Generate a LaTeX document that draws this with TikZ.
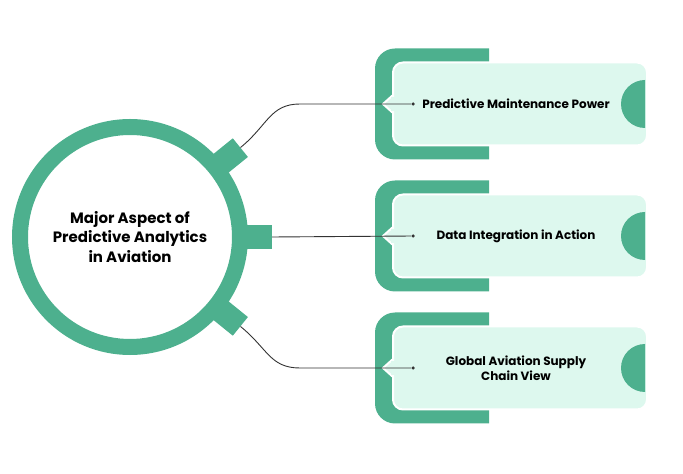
\documentclass[tikz,border=0pt]{standalone}
\usepackage{fontspec}
\setmainfont{Poppins}
\usetikzlibrary{arrows.meta, positioning, calc}
\definecolor{pagreen}{HTML}{4DB08E}
\definecolor{palight}{HTML}{DDF8EE}
\definecolor{paline}{HTML}{333333}

\begin{document}
\begin{tikzpicture}[x=1pt, y=1pt,
    hub/.style={circle, draw=pagreen, line width=16pt, minimum size=220pt, inner sep=0pt,
                fill=white, align=center, font=\fontsize{15}{19.5}\selectfont\bfseries},
    tab/.style={fill=pagreen, minimum width=30pt, minimum height=24pt, inner sep=0pt},
    card/.style={fill=palight, draw=white, line width=2pt, rounded corners=10pt,
                 minimum width=254pt, minimum height=83pt},
    linkdot/.style={circle, fill=paline, inner sep=0pt, minimum size=3.5pt},
    cardtext/.style={align=center, font=\fontsize{12}{15}\selectfont\bfseries},
    link/.style={draw=paline, line width=0.9pt}]
  \useasboundingbox (0,0) rectangle (683,474);
  % ring and its three tabs
  \foreach \a/\n in {39/1, 0/2, -39/3}
    \node[tab, rotate=\a] (tab\n) at ($(130,237)+(\a:127)$) {};
  \node[hub] (hub) at (130,237) {Major Aspect of\\Predictive Analytics\\in Aviation};
  % the three cards
  \foreach \y/\n/\t in {370/1/{Predictive Maintenance Power}, 238/2/{Data Integration in Action},
                        106/3/{Global Aviation Supply\\Chain View}} {
    \begin{scope}
      \clip (370,\y-60) rectangle (489,\y+60);
      \fill[pagreen, rounded corners=20pt] (375,\y-55.5) rectangle (530,\y+55.5);
    \end{scope}
    \node[card] (card\n) at (520,\y) {};
    \filldraw[fill=palight, draw=white, line width=2pt] (393,\y+9) -- (383,\y) -- (393,\y-9);
    \fill[palight] (391,\y-7) rectangle (396,\y+7);
    \fill[pagreen] (645,\y+24) arc[start angle=90, end angle=270, radius=24pt];
    \node[linkdot] (dot\n) at (413,\y) {};
    \node[cardtext] (text\n) at (516,\y) {\t};
  }
  % connectors
  \coordinate (bend1) at (300,370);
  \coordinate (bend3) at (300,106);
  \draw[link] (tab1.east) .. controls +(39:35) and +(-30,0) .. (bend1) -- (dot1);
  \draw[link] (tab2.east) -- (dot2);
  \draw[link] (tab3.east) .. controls +(-39:35) and +(-30,0) .. (bend3) -- (dot3);
\end{tikzpicture}
\end{document}
